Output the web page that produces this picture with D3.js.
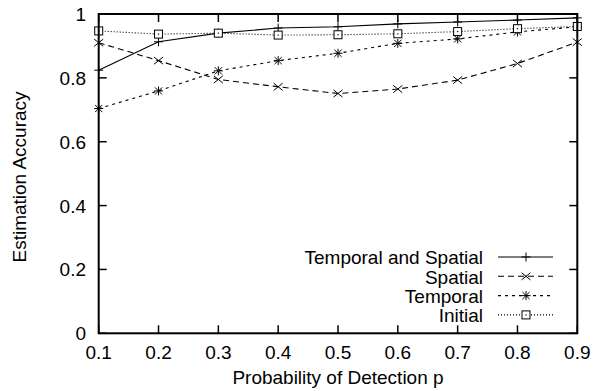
<!DOCTYPE html>
<html><head><meta charset="utf-8">
<script src="https://cdn.jsdelivr.net/npm/d3@7"></script>
<style>
html,body{margin:0;padding:0;background:#fff;}
svg{display:block;}
text{font-family:"Liberation Sans",Arial,Helvetica,sans-serif;fill:#000;}
</style></head>
<body>
<svg id="chart" width="593" height="391"></svg>
<script>
const pValues = [0.1,0.2,0.3,0.4,0.5,0.6,0.7,0.8,0.9];
const temporalSpatial = [0.824,0.913,0.940,0.956,0.960,0.969,0.975,0.981,0.988];
const spatial = [0.910,0.854,0.795,0.772,0.751,0.765,0.793,0.845,0.912];
const temporal = [0.704,0.759,0.822,0.854,0.877,0.908,0.922,0.944,0.960];
const initial = [0.947,0.937,0.940,0.934,0.935,0.938,0.945,0.954,0.961];
const seriesNames = ["Temporal and Spatial","Spatial","Temporal","Initial"];
const xTicks = [0.1,0.2,0.3,0.4,0.5,0.6,0.7,0.8,0.9];
const yTicks = [0,0.2,0.4,0.6,0.8,1];
const xTitle = "Probability of Detection p";
const yTitle = "Estimation Accuracy";

const series = [
  {name:seriesNames[0], values:temporalSpatial, dash:null, marker:"plus"},
  {name:seriesNames[1], values:spatial, dash:"6,4", marker:"cross"},
  {name:seriesNames[2], values:temporal, dash:"3,4", marker:"star"},
  {name:seriesNames[3], values:initial, dash:"1,2", marker:"square"}
];

const L=98.7, R=577.3, T=14, B=333.3;
const x = d3.scaleLinear().domain([0.1,0.9]).range([L,R]);
const y = d3.scaleLinear().domain([0,1]).range([B,T]);
const svg = d3.select("#chart");
const FS = 19;

// ticks (inward, mirrored)
const tk = 8;
const g = svg.append("g").attr("stroke","#000").attr("stroke-width",1.5);
xTicks.forEach(v=>{
  g.append("line").attr("x1",x(v)).attr("x2",x(v)).attr("y1",B).attr("y2",B-tk);
  g.append("line").attr("x1",x(v)).attr("x2",x(v)).attr("y1",T).attr("y2",T+tk);
});
yTicks.forEach(v=>{
  g.append("line").attr("x1",L).attr("x2",L+tk).attr("y1",y(v)).attr("y2",y(v));
  g.append("line").attr("x1",R).attr("x2",R-tk).attr("y1",y(v)).attr("y2",y(v));
});

// tick labels
svg.append("g").selectAll("text").data(xTicks).join("text")
  .attr("x",d=>x(d)).attr("y",359).attr("text-anchor","middle")
  .style("font-size",FS+"px").text(d=>d.toString());
svg.append("g").selectAll("text").data(yTicks).join("text")
  .attr("x",86).attr("y",d=>y(d)+7).attr("text-anchor","end")
  .style("font-size",FS+"px").text(d=>d.toString());

// titles
svg.append("text").attr("x",(L+R)/2).attr("y",384).attr("text-anchor","middle")
  .style("font-size",FS+"px").text(xTitle);
svg.append("text").attr("transform","translate(26,177) rotate(-90)")
  .attr("text-anchor","middle").style("font-size",FS+"px").text(yTitle);

function drawMarker(sel, type, cx, cy){
  const s=4.5;
  const m = sel.append("g").attr("stroke","#000").attr("stroke-width",1).attr("fill","none");
  if(type==="plus"){
    m.append("line").attr("x1",cx-s).attr("x2",cx+s).attr("y1",cy).attr("y2",cy);
    m.append("line").attr("x1",cx).attr("x2",cx).attr("y1",cy-s).attr("y2",cy+s);
  } else if(type==="cross"){
    m.append("line").attr("x1",cx-s).attr("x2",cx+s).attr("y1",cy-s*0.8).attr("y2",cy+s*0.8);
    m.append("line").attr("x1",cx-s).attr("x2",cx+s).attr("y1",cy+s*0.8).attr("y2",cy-s*0.8);
  } else if(type==="star"){
    m.append("line").attr("x1",cx-s).attr("x2",cx+s).attr("y1",cy).attr("y2",cy);
    m.append("line").attr("x1",cx).attr("x2",cx).attr("y1",cy-s).attr("y2",cy+s);
    m.append("line").attr("x1",cx-s*0.8).attr("x2",cx+s*0.8).attr("y1",cy-s*0.8).attr("y2",cy+s*0.8);
    m.append("line").attr("x1",cx-s*0.8).attr("x2",cx+s*0.8).attr("y1",cy+s*0.8).attr("y2",cy-s*0.8);
  } else {
    m.append("rect").attr("x",cx-4).attr("y",cy-4).attr("width",8).attr("height",8).attr("fill","#fff");
    m.append("rect").attr("x",cx-0.6).attr("y",cy-0.6).attr("width",1.2).attr("height",1.2).attr("fill","#000").attr("stroke","none");
  }
}

const line = d3.line().x(d=>x(d[0])).y(d=>y(d[1]));
series.forEach(s=>{
  const pts = pValues.map((p,i)=>[p,s.values[i]]);
  svg.append("path").datum(pts).attr("d",line).attr("fill","none")
    .attr("stroke","#000").attr("stroke-width",1.1)
    .attr("stroke-dasharray",s.dash);
});
series.forEach(s=>{
  pValues.forEach((p,i)=>drawMarker(svg,s.marker,x(p),y(s.values[i])));
});

// legend
const legBase = [264.3,283.6,302.9,322.2];
series.forEach((s,i)=>{
  const by = legBase[i];
  svg.append("text").attr("x",483).attr("y",by).attr("text-anchor","end")
    .style("font-size",FS+"px").text(s.name);
  const ly = by-7.3;
  svg.append("line").attr("x1",498).attr("x2",553).attr("y1",ly).attr("y2",ly)
    .attr("stroke","#000").attr("stroke-width",1.1).attr("stroke-dasharray",s.dash);
  drawMarker(svg,s.marker,526,ly);
});

// border
svg.append("rect").attr("x",L).attr("y",T).attr("width",R-L).attr("height",B-T)
  .attr("fill","none").attr("stroke","#000").attr("stroke-width",2);
</script>
</body></html>
